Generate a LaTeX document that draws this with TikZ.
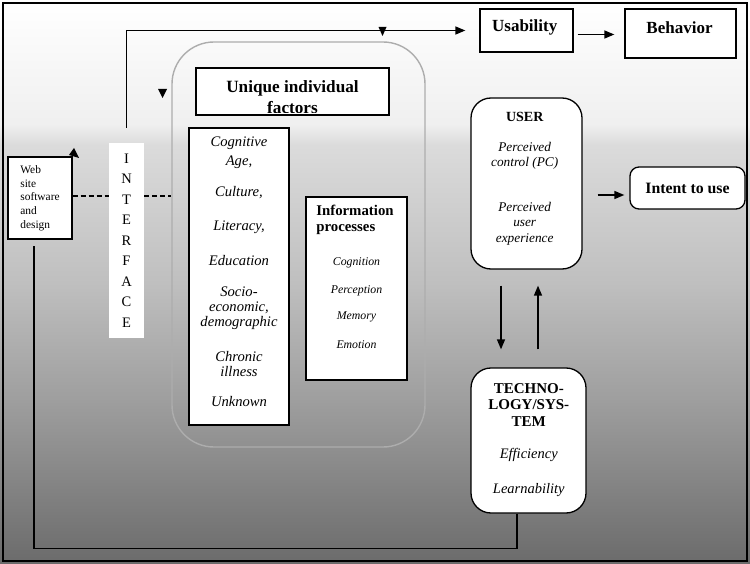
\documentclass[tikz,border=0pt]{standalone}
\usepackage{fontspec}
\setmainfont{Liberation Serif}
\usetikzlibrary{arrows.meta}
\newcommand\fsz[2]{\fontsize{#1}{#2}\selectfont}
% the picture only shows the middle half (25bp to 75bp) of the shading
\pgfdeclareverticalshading{bgfade}{100bp}{color(0bp)=(black!58); color(25bp)=(black!58); color(39.5bp)=(black!38); color(50bp)=(black!25); color(62.2bp)=(black!14); color(64bp)=(black!6); color(75bp)=(white); color(100bp)=(white)}

\begin{document}
\begin{tikzpicture}[x=1pt,y=-1pt,
  box/.style={draw,fill=white,line width=1.3pt,inner sep=0pt},
  rbox/.style={box,rounded corners=20pt},
  arr/.style={line width=1.4pt,-{Triangle[length=10pt,width=8pt]}},
  item/.style={font=\fsz{14.6}{15}\itshape,align=center}]
  \useasboundingbox (0,0) rectangle (750,564);
  \shade[shading=bgfade] (0,0) rectangle (750,564);
  \draw[line width=1.8pt] (3,3) rectangle (747,561);

  % outer frame of the individual factors
  \node[draw=black!32,line width=1.4pt,rounded corners=42pt,minimum width=253pt,minimum height=405pt] (indiv) at (298.5,244.5) {};

  \node[box,minimum width=64pt,minimum height=82pt,align=left,font=\fsz{11.4}{13.7}] (web) at (40,198) {Web\\site\\software\\and\\design};
  \node[fill=white,inner sep=0pt,minimum width=35pt,minimum height=195pt,align=center,font=\fsz{14.5}{20.5}] (iface) at (126.5,240.5) {I\\N\\T\\E\\R\\F\\A\\C\\E};

  \node[box,minimum width=93pt,minimum height=43pt] (usab) at (526.5,30.5) {};
  \node[font=\fsz{17}{20}\bfseries] (usabtxt) at (524.7,27) {Usability};
  \node[box,minimum width=111pt,minimum height=49pt] (behav) at (680.5,33.5) {};
  \node[font=\fsz{17}{20}\bfseries] (behavtxt) at (679.5,27.5) {Behavior};

  % title box, its second line is cut by the border
  \node[box,minimum width=193pt,minimum height=47pt] (uniq) at (292.5,91.5) {};
  \begin{scope}
    \clip (uniq.north west) rectangle ([yshift=3.5pt]uniq.south east);
    \node[align=center,font=\fsz{17.2}{20.5}\bfseries] (uniqtxt) at (292.5,97) {Unique individual\\factors};
  \end{scope}

  % individual factors
  \node[box,minimum width=100pt,minimum height=297pt] (facts) at (239,276.5) {};
  \node[item,font=\fsz{14.6}{19}\itshape] (fcog) at (239,153) {Cognitive\\Age,};
  \node[item] (fcul) at (239,193) {Culture,};
  \node[item] (flit) at (239,227) {Literacy,};
  \node[item] (fedu) at (239,261) {Education};
  \node[item] (fsoc) at (239,308) {Socio-\\economic,\\demographic};
  \node[item] (fchr) at (239,364) {Chronic\\illness};
  \node[item] (funk) at (239,402) {Unknown};

  % information processes
  \node[box,minimum width=101pt,minimum height=183pt] (info) at (356.5,288.5) {};
  \node[align=left,font=\fsz{14.8}{16.5}\bfseries] (infotxt) at (355,220) {Information\\processes};
  \node[font=\fsz{11.8}{14}\itshape] (pcog) at (356.5,263) {Cognition};
  \node[font=\fsz{11.8}{14}\itshape] (pper) at (356.5,291) {Perception};
  \node[font=\fsz{11.8}{14}\itshape] (pmem) at (356.5,317) {Memory};
  \node[font=\fsz{11.8}{14}\itshape] (pemo) at (356.5,345) {Emotion};

  % user
  \node[rbox,minimum width=111pt,minimum height=171pt] (user) at (526.5,183.5) {};
  \node[font=\fsz{14}{15}\bfseries] (usertxt) at (524.7,117) {USER};
  \node[item,font=\fsz{13.3}{15}\itshape] (upc) at (524.7,155.5) {Perceived\\control (PC)};
  \node[item,font=\fsz{13.3}{15.5}\itshape] (uux) at (524.7,223.5) {Perceived\\user\\experience};

  \node[box,rounded corners=9pt,minimum width=115pt,minimum height=42pt,font=\fsz{15.8}{18}\bfseries] (intent) at (687.5,188) {Intent to use};

  % technology
  \node[rbox,minimum width=115pt,minimum height=145pt] (tech) at (528.5,440.5) {};
  \node[align=center,font=\fsz{15}{16.5}\bfseries] (techtxt) at (528.8,405) {TECHNO-\\LOGY/SYS-\\TEM};
  \node[font=\fsz{14.5}{16}\itshape] (teff) at (528.8,455) {Efficiency};
  \node[font=\fsz{14.5}{16}\itshape] (tlea) at (528.8,490) {Learnability};

  % connectors
  \coordinate (dashy) at (0,196);
  \draw[line width=1.1pt,dash pattern=on 5pt off 3pt] (web.east |- dashy) -- (iface.west |- dashy);
  \draw[line width=1.1pt,dash pattern=on 5pt off 3pt] (iface.east |- dashy) -- (indiv.west |- dashy);

  \draw[arr,shorten >=14pt] ([yshift=15pt]iface.north) |- (usab.west);
  \coordinate (ub) at ([yshift=-4pt]usab.east);
  \draw[arr,shorten <=4pt,shorten >=10pt] (ub) -- (ub -| behav.west);

  \coordinate (intin) at ([yshift=-7pt]intent.west);
  \draw[arr,shorten <=15pt,shorten >=5pt] (user.east |- intin) -- (intin);

  \coordinate (dn) at ([xshift=-25.5pt]user.south);
  \coordinate (up) at ([xshift=11.5pt]user.south);
  \draw[arr,shorten <=16pt,shorten >=18pt] (dn) -- (dn |- tech.north);
  \draw[arr,shorten <=18pt,shorten >=16pt] (up |- tech.north) -- (up);

  \coordinate (loopout) at ([xshift=-11.5pt]tech.south);
  \coordinate (loopin) at ([xshift=-6pt]web.south);
  \draw[line width=1.4pt,shorten >=6pt] (loopout) -- ++(0,35) -| (loopin);

  % loose arrow heads
  \fill (378.5,27) -- (386.5,27) -- (382.5,36) -- cycle;
  \fill (158,89) -- (167,89) -- (162.5,98) -- cycle;
  \fill (74,148) -- (79,158) -- (69,155) -- cycle;
\end{tikzpicture}
\end{document}
